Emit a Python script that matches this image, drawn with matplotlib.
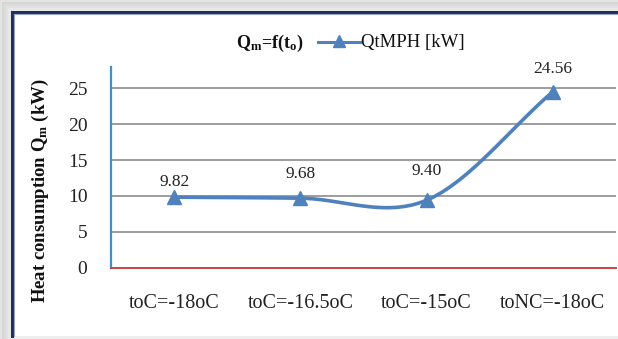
import numpy as np
import matplotlib
matplotlib.use("Agg")
import matplotlib.pyplot as plt
from matplotlib.patches import Rectangle
from matplotlib.lines import Line2D

categories = ["toC=-18oC", "toC=-16.5oC", "toC=-15oC", "toNC=-18oC"]
heat_kw = [9.82, 9.68, 9.40, 24.56]
value_labels = ["9.82", "9.68", "9.40", "24.56"]
y_ticks = [0, 5, 10, 15, 20, 25]
series_name = "QtMPH [kW]"

BLUE = "#4F81BD"
SERIF = ["Liberation Serif", "DejaVu Serif"]
plt.rcParams["mathtext.fontset"] = "custom"
plt.rcParams["mathtext.rm"] = "Liberation Serif"
plt.rcParams["mathtext.bf"] = "Liberation Serif:bold"
plt.rcParams["mathtext.it"] = "Liberation Serif:italic"

W, H = 618, 339
fig = plt.figure(figsize=(W / 100, H / 100), dpi=100)
fig.patch.set_facecolor("#e4e4e4")


def fx(px):
    return px / W


def fy(py):
    return 1 - py / H


# soft shadow band at the top and left
for i, c in enumerate(["#d6d6d6", "#dcdcdc", "#e2e2e2", "#e8e8e8", "#eeeeee"]):
    fig.patches.append(Rectangle((fx(2 + i * 2), 0), 1, fy(2 + i * 2), transform=fig.transFigure,
                                 facecolor=c, edgecolor="none", zorder=0))
# white chart panel with dark border on left and top
fig.patches.append(Rectangle((fx(12), fy(336)), 1, fy(12) - fy(336), transform=fig.transFigure,
                             facecolor="white", edgecolor="none", zorder=1))
fig.lines.append(Line2D([fx(12), fx(12)], [fy(12), fy(336)], transform=fig.transFigure,
                        color="#1f2f5f", lw=2.2, zorder=2))
fig.lines.append(Line2D([fx(12), 1], [fy(12), fy(12)], transform=fig.transFigure,
                        color="#1f2f5f", lw=2.2, zorder=2))
fig.lines.append(Line2D([fx(14), fx(14)], [fy(14), fy(336)], transform=fig.transFigure,
                        color="#9aa6c0", lw=0.8, zorder=2))
fig.lines.append(Line2D([fx(14), 1], [fy(14), fy(14)], transform=fig.transFigure,
                        color="#9aa6c0", lw=0.8, zorder=2))

ax = fig.add_axes([fx(111), fy(267.5), fx(616) - fx(111), fy(67) - fy(267.5)])
ax.set_facecolor("none")
ax.set_zorder(3)

x = np.arange(len(categories))
y = np.array(heat_kw)


# smoothed connecting line (Catmull-Rom through the data points)
def smooth(xs, ys, n=40):
    px, py = [], []
    m = len(xs)
    for i in range(m - 1):
        x0, x1 = xs[i], xs[i + 1]
        y0, y1 = ys[i], ys[i + 1]
        yp = ys[i - 1] if i > 0 else y0
        yn = ys[i + 2] if i + 2 < m else y1
        m0 = (y1 - yp) / (2 if i > 0 else 1)
        m1 = (yn - y0) / (2 if i + 2 < m else 1)
        t = np.linspace(0, 1, n)
        h00 = 2 * t**3 - 3 * t**2 + 1
        h10 = t**3 - 2 * t**2 + t
        h01 = -2 * t**3 + 3 * t**2
        h11 = t**3 - t**2
        px.append(x0 + (x1 - x0) * t)
        py.append(h00 * y0 + h10 * m0 + h01 * y1 + h11 * m1)
    return np.concatenate(px), np.concatenate(py)


sx, sy = smooth(x, y)
ax.plot(sx, sy, color=BLUE, lw=2.6, solid_capstyle="round", zorder=4)
ax.plot(x, y, linestyle="none", marker="^", ms=9.5, color=BLUE, zorder=5)

label_offsets = [15, 24, 29, 23]
for xi, yi, lab, off in zip(x, y, value_labels, label_offsets):
    ax.annotate(lab, (xi, yi), xytext=(0, off * 0.72), textcoords="offset points",
                ha="center", va="center", fontsize=12.5, family=SERIF, color="#222222")

ax.set_xlim(-0.5, 3.5)
ax.set_ylim(0, 28)
ax.set_yticks(y_ticks)
ax.set_yticklabels([str(v) for v in y_ticks], family=SERIF, fontsize=14)
ax.set_xticks(x)
ax.set_xticklabels(categories, family=SERIF, fontsize=14.5)
ax.tick_params(axis="both", length=0, colors="#222222")
ax.tick_params(axis="y", pad=17)
ax.tick_params(axis="x", pad=19)
ax.grid(axis="y", color="#8c8c8c", lw=1.2)
ax.set_axisbelow(True)
for s in ["top", "right"]:
    ax.spines[s].set_visible(False)
ax.spines["left"].set_color("#3d8fd6")
ax.spines["left"].set_linewidth(1.6)
ax.spines["bottom"].set_color("#cc4444")
ax.spines["bottom"].set_linewidth(1.4)

fig.text(fx(40), fy(191), r"Heat consumption Q$_{\mathbf{m}}$ (kW)", rotation=90, ha="center", va="center",
         fontsize=13.5, fontweight="bold", family=SERIF, color="#111111")

fig.text(fx(270), fy(43), r"Q$_{\mathbf{m}}$=f(t$_{\mathbf{o}}$)", ha="center", va="center",
         fontsize=13, fontweight="bold", family=SERIF, color="#111111")
fig.lines.append(Line2D([fx(318), fx(360)], [fy(42), fy(42)], transform=fig.transFigure,
                        color=BLUE, lw=2.2, zorder=5))
fig.lines.append(Line2D([fx(339)], [fy(41)], transform=fig.transFigure, marker="^",
                        ms=8, color=BLUE, zorder=6))
fig.text(fx(361), fy(42), series_name, ha="left", va="center", fontsize=13.5,
         family=SERIF, color="#111111")

fig.savefig("out.png", dpi=100, facecolor=fig.get_facecolor())
